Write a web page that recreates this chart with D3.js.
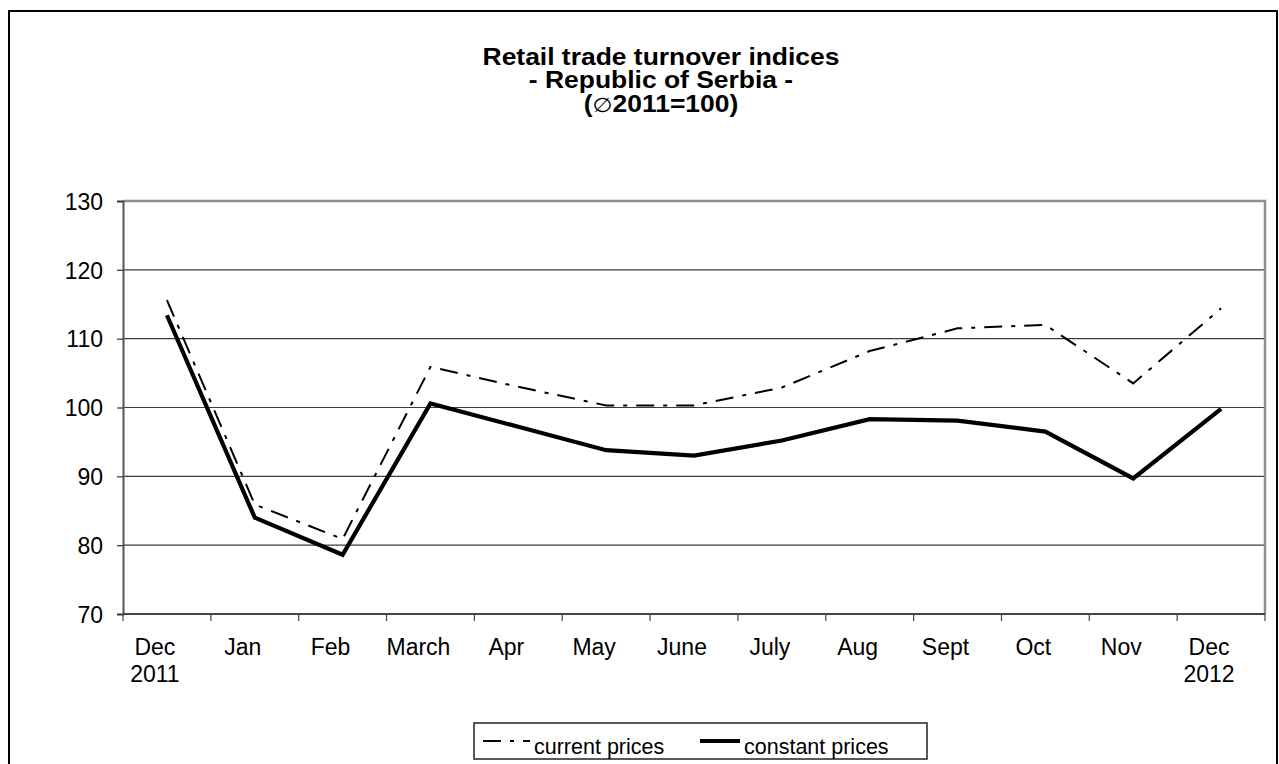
<!DOCTYPE html>
<html>
<head>
<meta charset="utf-8">
<script src="https://cdn.jsdelivr.net/npm/d3@7/dist/d3.min.js"></script>
<style>
  html, body { margin: 0; padding: 0; background: #fff; }
  svg { display: block; }
  text { font-family: "Liberation Sans", Arial, sans-serif; fill: #000; }
</style>
</head>
<body>
<svg id="chart" width="1279" height="764"></svg>
<script>
// ---- data ----
const categories = ["Dec\n2011", "Jan", "Feb", "March", "Apr", "May", "June", "July", "Aug", "Sept", "Oct", "Nov", "Dec\n2012"];
const currentPrices  = [115.6, 85.9, 80.9, 105.9, 103.0, 100.3, 100.3, 102.9, 108.2, 111.5, 112.0, 103.5, 114.4];
const constantPrices = [113.4, 84.0, 78.6, 100.6, 97.2, 93.8, 93.0, 95.2, 98.3, 98.1, 96.5, 89.7, 99.8];
const yTicks = [70, 80, 90, 100, 110, 120, 130];
const seriesNames = ["current prices", "constant prices"];
const titleLines = ["Retail trade turnover indices", "- Republic of Serbia -", "(\u22052011=100)"];

// ---- layout ----
const svg = d3.select("#chart");
const plot = { left: 123, right: 1265, top: 201, bottom: 614 };

// outer frame
svg.append("rect")
  .attr("x", 9).attr("y", 11).attr("width", 1268).attr("height", 800)
  .attr("fill", "none").attr("stroke", "#000").attr("stroke-width", 2);

// title
const title = svg.append("g")
  .attr("transform", "translate(661,0) scale(1.15,1)");
title.selectAll("text").data(titleLines).join("text")
  .attr("x", 0)
  .attr("y", (d, i) => 65 + i * 23.5)
  .attr("text-anchor", "middle")
  .attr("font-size", "23px")
  .attr("font-weight", "bold")
  .each(function (d) {
    const t = d3.select(this);
    if (d.includes("\u2205")) {
      const parts = d.split("\u2205");
      t.append("tspan").text(parts[0]);
      t.append("tspan").attr("font-weight", "normal")
        .attr("font-family", "DejaVu Sans").attr("font-size", "20px").text("\u2205");
      t.append("tspan").text(parts[1]);
    } else {
      t.text(d);
    }
  });

// scales
const x = d3.scaleBand().domain(categories).range([plot.left, plot.right]).paddingInner(0).paddingOuter(0);
const y = d3.scaleLinear().domain([70, 130]).range([plot.bottom, plot.top]);
const cx = d => x(d) + x.bandwidth() / 2;

// gridlines
svg.append("g").selectAll("line").data(yTicks.filter(v => v > 70 && v < 130)).join("line")
  .attr("x1", plot.left).attr("x2", plot.right)
  .attr("y1", d => y(d)).attr("y2", d => y(d))
  .attr("stroke", "#3c3c3c").attr("stroke-width", 1.2);

// plot border top & right (gray)
svg.append("path")
  .attr("d", `M${plot.left},${y(130)}H${plot.right}V${plot.bottom}`)
  .attr("fill", "none").attr("stroke", "#8f8f8f").attr("stroke-width", 2.5);

// y axis
const yAxis = d3.axisLeft(y).tickValues(yTicks).tickSize(6).tickPadding(14).tickFormat(d3.format("d"));
const gy = svg.append("g").attr("transform", `translate(${plot.left},0)`).call(yAxis);
gy.select(".domain").attr("stroke", "#555").attr("stroke-width", 2);
gy.selectAll(".tick line").attr("stroke", "#333").attr("stroke-width", 1.2);
gy.selectAll(".tick text")
  .attr("font-size", "23px").attr("font-family", "Liberation Sans, Arial, sans-serif")
  .attr("fill", "#000").attr("dy", "0.36em");

// x axis
const gx = svg.append("g");
gx.append("line")
  .attr("x1", plot.left).attr("x2", plot.right)
  .attr("y1", plot.bottom).attr("y2", plot.bottom)
  .attr("stroke", "#444").attr("stroke-width", 2);
const edges = categories.map(c => x(c)).concat([plot.right]);
gx.selectAll("line.tick").data(edges).join("line").attr("class", "tick")
  .attr("x1", d => d).attr("x2", d => d)
  .attr("y1", plot.bottom).attr("y2", plot.bottom + 7)
  .attr("stroke", "#444").attr("stroke-width", 1.2);
gx.selectAll("text").data(categories).join("text")
  .attr("x", d => cx(d) - 12)
  .attr("y", 655)
  .attr("text-anchor", "middle")
  .attr("font-size", "23px")
  .each(function (d) {
    const t = d3.select(this);
    d.split("\n").forEach((part, i) => {
      t.append("tspan").attr("x", cx(d) - 12).attr("dy", i === 0 ? 0 : 27).text(part);
    });
  });

// lines
const series = [
  { name: seriesNames[0], values: currentPrices, width: 2, dash: "18,9,4,9", sample: 47 },
  { name: seriesNames[1], values: constantPrices, width: 4.2, dash: null, sample: 40 }
];
const line = d3.line().x((d, i) => cx(categories[i])).y(d => y(d));
svg.append("g").selectAll("path").data(series).join("path")
  .attr("d", s => line(s.values))
  .attr("fill", "none")
  .attr("stroke", "#000")
  .attr("stroke-width", s => s.width)
  .attr("stroke-dasharray", s => s.dash)
  .attr("stroke-linejoin", "miter");

// legend
const legend = svg.append("g");
legend.append("rect")
  .attr("x", 474).attr("y", 723).attr("width", 453).attr("height", 36)
  .attr("fill", "#fff").attr("stroke", "#222").attr("stroke-width", 1.5);
const items = legend.selectAll("g.item").data(series).join("g").attr("class", "item")
  .attr("transform", (d, i) => `translate(${483 + i * 217},0)`);
items.append("line")
  .attr("x1", 0).attr("x2", d => d.sample).attr("y1", 741).attr("y2", 741)
  .attr("stroke", "#000")
  .attr("stroke-width", d => d.width)
  .attr("stroke-dasharray", d => d.dash);
items.append("text")
  .attr("x", d => d.sample + 4)
  .attr("y", 754)
  .attr("font-size", "21.5px")
  .text(d => d.name);
</script>
</body>
</html>
